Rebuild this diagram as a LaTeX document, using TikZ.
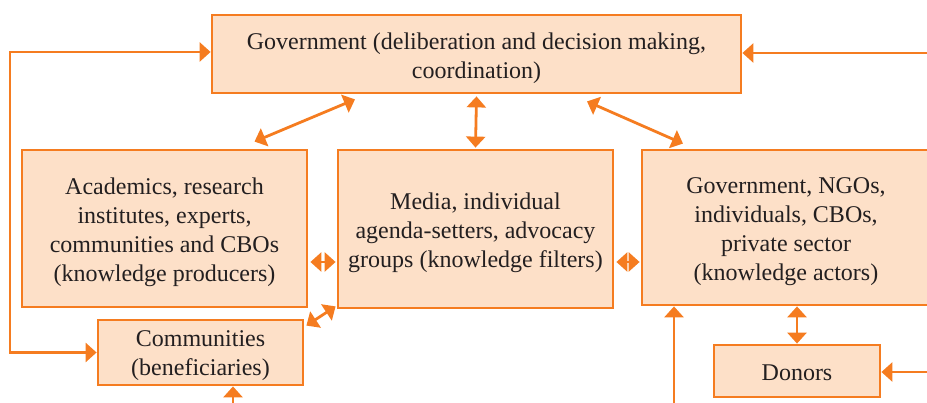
\documentclass[tikz,border=0pt]{standalone}
\usepackage{fontspec}
\setmainfont{Liberation Serif}
\usetikzlibrary{arrows.meta,calc}
\definecolor{orng}{RGB}{245,124,32}
\definecolor{peach}{RGB}{253,224,200}
\definecolor{ink}{RGB}{35,31,32}
\tikzset{
  box/.style={draw=orng, fill=peach, line width=2.8pt, inner sep=0pt},
  txt/.style={align=center, inner sep=0pt, text=ink, font=\fontsize{24}{29}\selectfont},
  conn/.style={draw=orng, line width=2.8pt, -{Triangle[length=11pt,width=19pt]}},
  dconn/.style={draw=orng, line width=2.8pt, {Triangle[length=11pt,width=19pt]}-{Triangle[length=11pt,width=19pt]}}
}
\begin{document}
\begin{tikzpicture}[x=1pt,y=-1pt]
\useasboundingbox (0,0) rectangle (927,403);
\node[box, minimum width=529pt, minimum height=78pt] (gov) at (476.5,54) {};
\node[txt] (govt) at ([yshift=-4pt]gov.center)
  {Government (deliberation and decision making,\\coordination)};
\node[box, minimum width=285pt, minimum height=157pt] (acad) at (164.5,228.5) {};
\node[txt] (acadt) at ([yshift=-4pt]acad.center)
  {Academics, research\\institutes, experts,\\communities and CBOs\\(knowledge producers)};
\node[box, minimum width=275pt, minimum height=158pt] (media) at (475.5,229) {};
\node[txt] (mediat) at ([yshift=-4pt]media.center)
  {Media, individual\\agenda-setters, advocacy\\groups (knowledge filters)};
\node[box, minimum width=288pt, minimum height=155pt] (ngo) at (786,227.5) {};
\node[txt] (ngot) at ([yshift=-4pt]ngo.center)
  {Government, NGOs,\\individuals, CBOs,\\private sector\\(knowledge actors)};
\node[box, minimum width=205pt, minimum height=65pt] (comm) at (200.5,352.5) {};
\node[txt] (commt) at ([yshift=-3pt]comm.center)
  {Communities\\(beneficiaries)};
\node[box, minimum width=166pt, minimum height=52pt] (donors) at (797,371) {};
\node[txt] (donorst) at ([yshift=-2pt]donors.center) {Donors};
\coordinate (lft) at (10,200);
\coordinate (hy) at (0,262);
\coordinate (r1) at (930,53);
\coordinate (r2) at (930,372);
\coordinate (b1) at (233,406);
\coordinate (b2) at (674,406);
% left loop
\draw[dconn] ([yshift=2pt]gov.west) -| (lft) |- (comm.west);
% right inputs
\draw[conn] (r1) -- (gov.east |- r1);
\draw[conn] (r2) -- (donors.east |- r2);
\draw[conn] (b1) -- (b1 |- comm.south);
\draw[conn] (b2) -- (b2 |- ngo.south);
\draw[dconn] (donors.north) -- (donors.north |- ngo.south);
% government links
\draw[dconn] ([xshift=90pt,yshift=7pt]acad.north) -- ([xshift=-121.5pt,yshift=-5pt]gov.south);
\draw[dconn] ([yshift=-2pt]gov.south) -- ([yshift=1pt]media.north);
\draw[dconn] ([xshift=110.5pt,yshift=-7pt]gov.south) -- ([xshift=-103pt,yshift=5pt]ngo.north);
% horizontal links
\draw[dconn] ([xshift=2pt]acad.east |- hy) -- ([xshift=-1pt]media.west |- hy);
\draw[dconn] ([xshift=2pt]media.east |- hy) -- ([xshift=-1pt]ngo.west |- hy);
\draw[dconn] ([xshift=2pt,yshift=-7pt]comm.north east) -- ([xshift=-1pt,yshift=3pt]media.south west);
\end{tikzpicture}
\end{document}
